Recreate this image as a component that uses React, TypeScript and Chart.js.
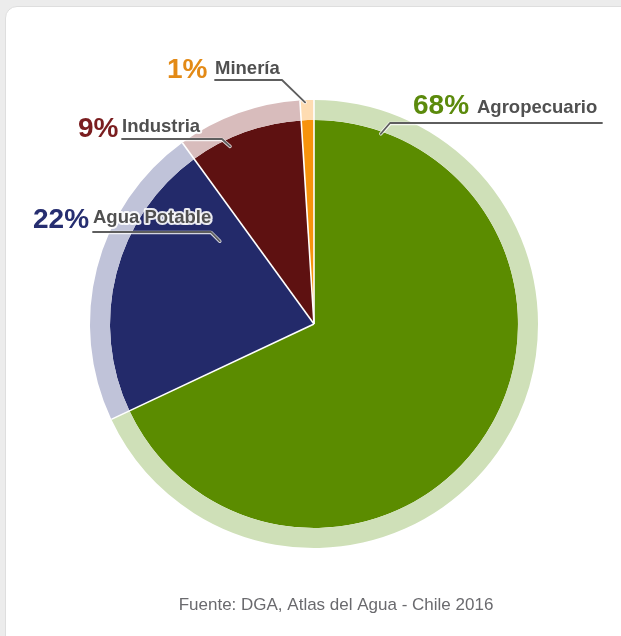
import React, { useEffect, useRef } from "react";
import { Chart, registerables } from "chart.js";

Chart.register(...registerables);

const categories = ["Agropecuario", "Agua Potable", "Industria", "Minería"];
const shares = [68, 22, 9, 1];
const pctLabels = ["68%", "22%", "9%", "1%"];
const sourceNote = "Fuente: DGA, Atlas del Agua - Chile 2016";

const innerColors = ["#5b8c00", "#232a6a", "#5e1111", "#f7930c"];
const ringColors = ["#cfe0b8", "#c0c3d9", "#d8bcbc", "#fedcb2"];
const pctColors = ["#5b8a0c", "#262e70", "#7a1d1f", "#e38a16"];

// label layout (positions of the callouts, not data)
const labelLayout = [
  { pctX: 413, pctBase: 114, nameX: 477, nameBase: 113, lineY: 123, x1: 602, x2: 390, t: 0.079, k: 0.9 },
  { pctX: 33, pctBase: 228, nameX: 93, nameBase: 223, lineY: 232, x1: 93, x2: 211, t: 0.84, k: 0.56 },
  { pctX: 78, pctBase: 137, nameX: 122, nameBase: 132, lineY: 139, x1: 122, x2: 222, t: 0.33, k: 0.877 },
  { pctX: 167, pctBase: 78, nameX: 215, nameBase: 74, lineY: 80, x1: 215, x2: 282, t: 0.36, k: 0.99 },
];

const FONT = '"Liberation Sans", Arial, Helvetica, sans-serif';

const calloutPlugin = {
  id: "callouts",
  afterDatasetsDraw(chart: any) {
    const ctx = chart.ctx;
    const ringMeta = chart.getDatasetMeta(0);
    const innerMeta = chart.getDatasetMeta(1);
    const ringArcs = ringMeta.data;
    const innerArcs = innerMeta.data;
    if (!ringArcs.length) return;
    const cx = ringArcs[0].x;
    const cy = ringArcs[0].y;
    const R = ringArcs[0].outerRadius;

    // white radial separators
    ctx.save();
    ctx.strokeStyle = "#ffffff";
    ctx.lineWidth = 1.6;
    innerArcs.forEach((arc: any) => {
      const a = arc.startAngle;
      ctx.beginPath();
      ctx.moveTo(cx, cy);
      ctx.lineTo(cx + Math.cos(a) * R, cy + Math.sin(a) * R);
      ctx.stroke();
    });
    ctx.restore();

    // callouts
    ctx.save();
    categories.forEach((name, i) => {
      const L = labelLayout[i];
      const arc: any = innerArcs[i];
      const a = arc.startAngle + L.t * (arc.endAngle - arc.startAngle);
      const ax = cx + Math.cos(a) * R * L.k;
      const ay = cy + Math.sin(a) * R * L.k;

      // leader line
      ctx.lineJoin = "round";
      ctx.lineCap = "round";
      ctx.strokeStyle = "rgba(255,255,255,0.8)";
      ctx.lineWidth = 3.5;
      ctx.beginPath();
      ctx.moveTo(L.x1, L.lineY + 0.5);
      ctx.lineTo(L.x2, L.lineY + 0.5);
      ctx.lineTo(ax, ay);
      ctx.stroke();
      ctx.strokeStyle = "#5e5e5e";
      ctx.lineWidth = 1.8;
      ctx.beginPath();
      ctx.moveTo(L.x1, L.lineY);
      ctx.lineTo(L.x2, L.lineY);
      ctx.lineTo(ax, ay);
      ctx.stroke();

      ctx.textBaseline = "alphabetic";
      ctx.textAlign = "left";
      // percentage
      ctx.font = `bold 28px ${FONT}`;
      ctx.lineWidth = 4;
      ctx.strokeStyle = "rgba(255,255,255,0.9)";
      ctx.strokeText(pctLabels[i], L.pctX, L.pctBase);
      ctx.fillStyle = pctColors[i];
      ctx.fillText(pctLabels[i], L.pctX, L.pctBase);
      // name
      ctx.font = `bold 18.5px ${FONT}`;
      ctx.lineWidth = 4;
      ctx.strokeStyle = "rgba(255,255,255,0.9)";
      ctx.strokeText(name, L.nameX, L.nameBase);
      ctx.fillStyle = "#505050";
      ctx.fillText(name, L.nameX, L.nameBase);
    });

    // source note
    ctx.font = `17px ${FONT}`;
    ctx.fillStyle = "#6a6a6e";
    ctx.textAlign = "center";
    ctx.fillText(sourceNote, 336, 610);
    ctx.restore();
  },
};

export default function App() {
  const canvasRef = useRef<HTMLCanvasElement | null>(null);

  useEffect(() => {
    if (!canvasRef.current) return;
    const chart = new Chart(canvasRef.current, {
      type: "pie",
      data: {
        labels: categories,
        datasets: [
          {
            data: shares,
            backgroundColor: ringColors,
            borderWidth: 0,
            weight: 20,
          },
          {
            data: shares,
            backgroundColor: innerColors,
            borderWidth: 0,
            weight: 204,
          },
        ],
      },
      options: {
        responsive: false,
        maintainAspectRatio: false,
        animation: false,
        layout: { padding: { left: 90, right: 83, top: 100, bottom: 88 } },
        plugins: {
          legend: { display: false },
          tooltip: { enabled: false },
          title: { display: false },
        },
      },
      plugins: [calloutPlugin],
    });
    return () => chart.destroy();
  }, []);

  return (
    <div
      style={{
        position: "fixed",
        left: 0,
        top: 0,
        width: 621,
        height: 636,
        overflow: "hidden",
        background: "#ececec",
      }}
    >
      <div
        style={{
          position: "absolute",
          left: 5,
          top: 6,
          width: 640,
          height: 650,
          borderRadius: 12,
          background: "#ffffff",
          border: "1px solid #dedede",
          boxSizing: "border-box",
        }}
      />
      <canvas
        ref={canvasRef}
        width={621}
        height={636}
        style={{ position: "absolute", left: 0, top: 0, width: 621, height: 636 }}
      />
    </div>
  );
}
